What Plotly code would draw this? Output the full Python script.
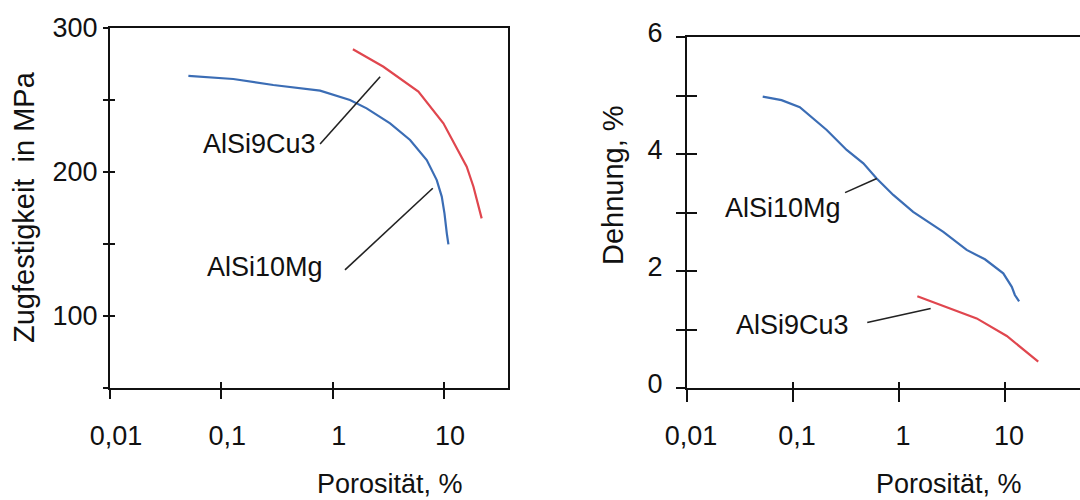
import plotly.graph_objects as go

# ---------------- data ----------------
x_ticks = [0.01, 0.1, 1, 10]
x_ticktext = ["0,01", "0,1", "1", "10"]

# Left chart: Zugfestigkeit (MPa) vs Porosität (%)
l_mg_x = [0.0506, 0.128, 0.293, 0.771, 1.43, 2.02, 3.28, 4.96, 7.0, 8.61, 9.55, 10.1, 10.6, 10.96]
l_mg_y = [266.7, 264.6, 260.4, 256.5, 250.0, 244.2, 233.8, 222.2, 208.3, 194.4, 182.9, 171.3, 157.4, 149.8]
l_cu_x = [1.52, 2.86, 5.89, 9.88, 16.0, 18.4, 21.8]
l_cu_y = [285.2, 273.1, 255.8, 233.8, 203.7, 189.8, 167.8]
l_yticks = [50, 100, 150, 200, 250, 300]
l_yticktext = ["", "100", "", "200", "", "300"]

# Right chart: Dehnung (%) vs Porosität (%)
r_mg_x = [0.0518, 0.078, 0.116, 0.135, 0.208, 0.321, 0.461, 0.616, 0.883, 1.36, 2.62, 4.35, 6.47, 9.64, 11.6, 12.4, 13.6]
r_mg_y = [4.98, 4.92, 4.80, 4.70, 4.41, 4.07, 3.84, 3.58, 3.30, 3.01, 2.67, 2.36, 2.20, 1.96, 1.73, 1.59, 1.48]
r_cu_x = [1.49, 2.6, 5.41, 10.4, 20.6]
r_cu_y = [1.57, 1.40, 1.19, 0.89, 0.45]
r_yticks = [0, 1, 2, 3, 4, 5, 6]
r_yticktext = ["0", "", "2", "", "4", "", "6"]

# leader lines (label -> curve)
lead_l_cu_x = [0.771, 2.67]
lead_l_cu_y = [219.4, 266.2]
lead_l_mg_x = [1.29, 7.93]
lead_l_mg_y = [132.0, 188.7]
lead_r_mg_x = [0.310, 0.617]
lead_r_mg_y = [3.34, 3.58]
lead_r_cu_x = [0.502, 1.99]
lead_r_cu_y = [1.12, 1.36]

BLUE = "#3b6db5"
RED = "#e0464e"
FONT = "Arial, Liberation Sans, sans-serif"
FS = 27

fig = go.Figure()

def line(x, y, color, xa, ya, w=2.2):
    fig.add_trace(go.Scatter(x=x, y=y, mode="lines", line=dict(color=color, width=w),
                             xaxis=xa, yaxis=ya, hoverinfo="skip", showlegend=False))

line(l_mg_x, l_mg_y, BLUE, "x", "y")
line(l_cu_x, l_cu_y, RED, "x", "y")
line(lead_l_cu_x, lead_l_cu_y, "#222222", "x", "y", 1.6)
line(lead_l_mg_x, lead_l_mg_y, "#222222", "x", "y", 1.6)
line(r_mg_x, r_mg_y, BLUE, "x2", "y2")
line(r_cu_x, r_cu_y, RED, "x2", "y2")
line(lead_r_mg_x, lead_r_mg_y, "#222222", "x2", "y2", 1.6)
line(lead_r_cu_x, lead_r_cu_y, "#222222", "x2", "y2", 1.6)

L_DOM = [110 / 1080, 508 / 1080]
R_DOM = [687 / 1080, 1.0]
L_YDOM = [(500 - 388) / 500, (500 - 28) / 500]
R_YDOM = [(500 - 388) / 500, (500 - 37) / 500]
L_XR = [-2, 1.575]
R_XR = [-2, 1.708]

tickfont = dict(family=FONT, size=FS, color="#111111")
axline = dict(showline=True, linecolor="#111111", linewidth=2, showgrid=False, zeroline=False,
              tickcolor="#111111", tickwidth=2, automargin=False)
over = dict(showticklabels=False, showline=False, showgrid=False, zeroline=False,
            tickcolor="#111111", tickwidth=2, automargin=False)

fig.update_layout(
    width=1080, height=500, margin=dict(l=0, r=0, t=0, b=0, autoexpand=False),
    paper_bgcolor="white", plot_bgcolor="white", showlegend=False,
    xaxis=dict(type="log", domain=L_DOM, range=L_XR, anchor="y", tickvals=x_ticks, ticktext=x_ticktext,
               ticks="outside", ticklen=9, tickfont=tickfont, mirror=True, ticklabelshift=6,
               ticklabelstandoff=14, **axline),
    yaxis=dict(domain=L_YDOM, range=[50, 300], anchor="x", tickvals=l_yticks, ticktext=l_yticktext,
               ticks="outside", ticklen=5, tickfont=tickfont, mirror=True, **axline),
    xaxis3=dict(type="log", domain=L_DOM, range=L_XR, anchor="y", overlaying="x", tickvals=x_ticks,
                ticks="inside", ticklen=6, **over),
    yaxis3=dict(domain=L_YDOM, range=[50, 300], anchor="x", overlaying="y", tickvals=l_yticks,
                ticks="inside", ticklen=5, **over),
    xaxis2=dict(type="log", domain=R_DOM, range=R_XR, anchor="y2", tickvals=x_ticks, ticktext=x_ticktext,
                ticks="outside", ticklen=12, tickfont=tickfont, mirror=True, ticklabelshift=4,
                ticklabelstandoff=11, **axline),
    yaxis2=dict(domain=R_YDOM, range=[0, 6], anchor="x2", tickvals=r_yticks, ticktext=r_yticktext,
                ticks="outside", ticklen=9, tickfont=tickfont, ticklabelstandoff=8, ticklabelshift=-4,
                **axline),
    xaxis4=dict(type="log", domain=R_DOM, range=R_XR, anchor="y2", overlaying="x2", tickvals=x_ticks,
                ticks="inside", ticklen=6, **over),
    yaxis4=dict(domain=R_YDOM, range=[0, 6], anchor="x2", overlaying="y2", tickvals=r_yticks,
                ticks="inside", ticklen=10, **over),
)

# invisible traces so the overlay tick axes render
fig.add_trace(go.Scatter(x=[1], y=[100], xaxis="x3", yaxis="y3", mode="markers", marker=dict(opacity=0),
                         hoverinfo="skip", showlegend=False))
fig.add_trace(go.Scatter(x=[1], y=[1], xaxis="x4", yaxis="y4", mode="markers", marker=dict(opacity=0),
                         hoverinfo="skip", showlegend=False))

txt = dict(family=FONT, size=FS, color="#111111")
C = dict(xanchor="center", yanchor="middle", showarrow=False)
ann = [
    # axis titles
    dict(text="Zugfestigkeit  in MPa", xref="paper", yref="paper", x=24 / 1080, y=(500 - 207) / 500,
         textangle=-90, font=dict(family=FONT, size=29, color="#111111"), **C),
    dict(text="Dehnung, %", xref="paper", yref="paper", x=613 / 1080, y=(500 - 185) / 500,
         textangle=-90, font=dict(family=FONT, size=29, color="#111111"), **C),
    dict(text="Porosität, %", xref="paper", yref="paper", x=390 / 1080, y=(500 - 484) / 500,
         font=txt, **C),
    dict(text="Porosität, %", xref="paper", yref="paper", x=949 / 1080, y=(500 - 484) / 500,
         font=txt, **C),
    # curve labels (log x positions)
    dict(text="AlSi9Cu3", xref="x", yref="y", x=-0.661, y=219.4, font=txt, **C),
    dict(text="AlSi10Mg", xref="x", yref="y", x=-0.607, y=134.0, font=txt, **C),
    dict(text="AlSi10Mg", xref="x2", yref="y2", x=-1.094, y=3.08, font=txt, **C),
    dict(text="AlSi9Cu3", xref="x2", yref="y2", x=-1.009, y=1.08, font=txt, **C),
]
fig.update_layout(annotations=ann)

fig.write_html("out.html")
